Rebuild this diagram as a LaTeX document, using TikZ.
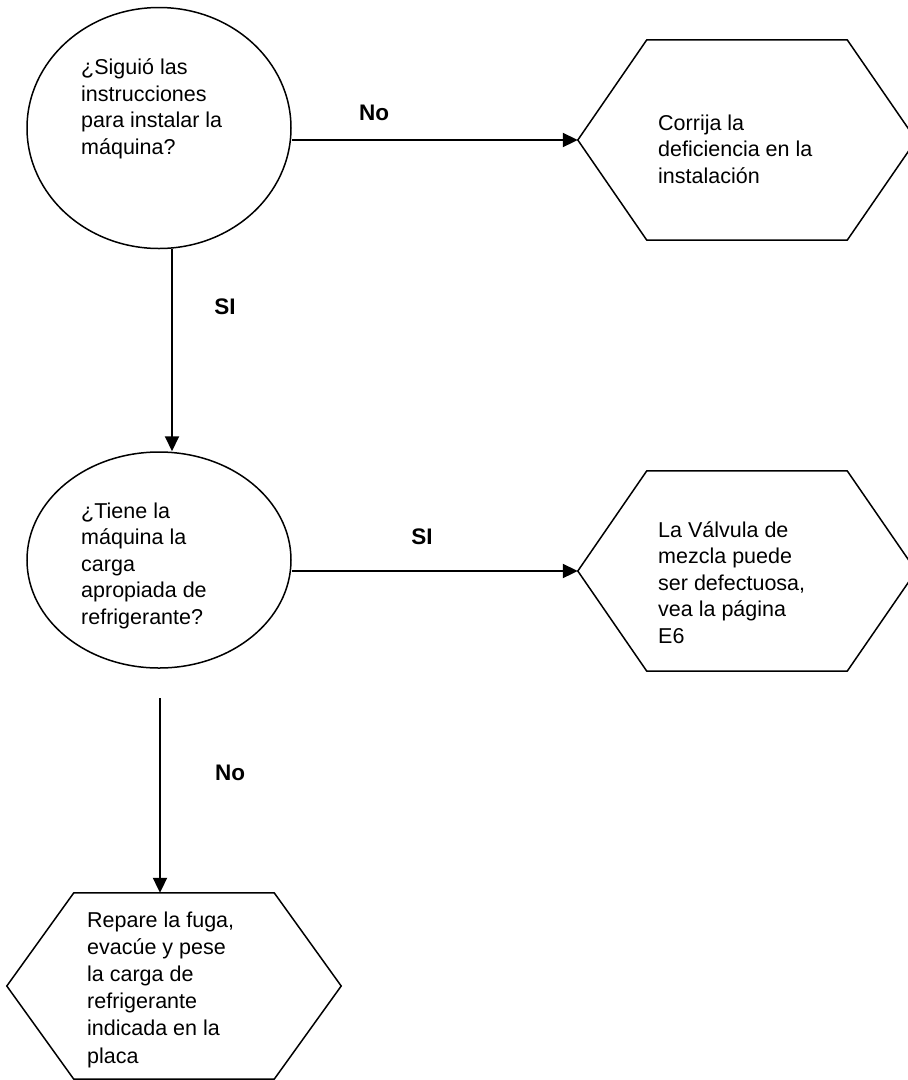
\documentclass[tikz,border=0pt]{standalone}
\usepackage{fontspec}
\setmainfont{Liberation Sans}
\usetikzlibrary{arrows.meta,shapes.geometric}

\tikzset{
    pregunta/.style={draw, ellipse, line width=1.5pt, inner sep=0pt},
    caja/.style={inner sep=0pt},
    texto/.style={align=left, inner sep=0pt, anchor=base west,
        font=\fontsize{21.5}{26.5}\selectfont},
    etiqueta/.style={inner sep=0pt, font=\fontsize{22.5}{26}\selectfont\bfseries},
    flecha/.style={->, line width=2pt}
}

% contorno hexagonal sobre un nodo rectangular
\newcommand{\hexagono}[2]{%
    \draw[line width=1.5pt] (#1.west) -- ([xshift=#2]#1.north west)
        -- ([xshift=-#2]#1.north east) -- (#1.east)
        -- ([xshift=-#2]#1.south east) -- ([xshift=#2]#1.south west) -- cycle;}

\begin{document}
\begin{tikzpicture}[>={Triangle[length=15pt, width=14pt]}, x=1pt, y=-1pt]

    \useasboundingbox (0,0) rectangle (908,1080);

    % Preguntas
    \node[pregunta, minimum width=264pt, minimum height=241pt] (q1) at (159,128) {};
    \node[pregunta, minimum width=264pt, minimum height=216pt] (q2) at (159,560) {};

    % (el ancla base es la linea de base de la ultima linea)
    \node[texto] (t1) at (81,154)
        {¿Siguió las\\instrucciones\\para instalar la\\máquina?};
    \node[texto] (t2) at (81,624)
        {¿Tiene la\\máquina la\\carga\\apropiada de\\refrigerante?};

    % Acciones
    \node[caja, minimum width=338pt, minimum height=200pt] (a1) at (747,140) {};
    \node[caja, minimum width=338pt, minimum height=200pt] (a2) at (747,571) {};
    \node[caja, minimum width=334pt, minimum height=186pt] (a3) at (174,986) {};
    \hexagono{a1}{69pt}
    \hexagono{a2}{69pt}
    \hexagono{a3}{67pt}

    \node[texto] (t3) at (658,183)
        {Corrija la\\deficiencia en la\\instalación};
    \node[texto] (t4) at (658,643)
        {La Válvula de\\mezcla puede\\ser defectuosa,\\vea la página\\E6};
    \node[texto, font=\fontsize{21.5}{27.2}\selectfont] (t5) at (87,1063)
        {Repare la fuga,\\evacúe y pese\\la carga de\\refrigerante\\indicada en la\\placa};

    % Conexiones
    \draw[flecha] (q1.east |- a1.west) -- (a1.west);
    \node[etiqueta] (l1) at (374,113) {No};

    \draw[flecha] ([xshift=13pt]q1.south) -- ([xshift=13pt]q2.north);
    \node[etiqueta] (l2) at (225,307) {SI};

    \draw[flecha] (q2.east |- a2.west) -- (a2.west);
    \node[etiqueta] (l3) at (422,537) {SI};

    \coordinate (n0) at (160,698);
    \draw[flecha] (n0) -- (n0 |- a3.north);
    \node[etiqueta] (l4) at (230,773) {No};

\end{tikzpicture}
\end{document}
